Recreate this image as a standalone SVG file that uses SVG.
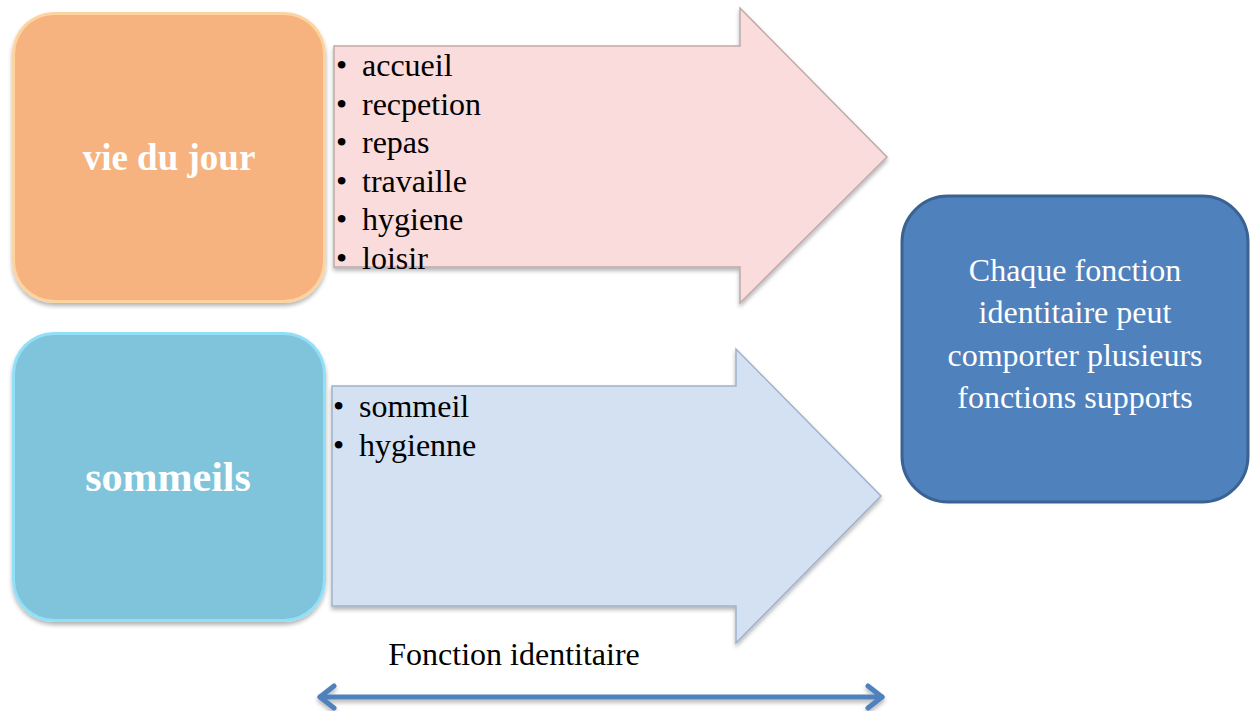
<svg xmlns="http://www.w3.org/2000/svg" width="1253" height="711" viewBox="0 0 1253 711">
<style>
.t{font-family:"Liberation Serif","Times New Roman",serif;}
.lst{font-size:32px;fill:#000;}
.big{font-weight:bold;fill:#fff;text-anchor:middle;}
.rb{font-size:32px;fill:#fff;text-anchor:middle;}
</style>
<defs>
<filter id="sh" x="-10%" y="-10%" width="120%" height="130%">
<feGaussianBlur in="SourceAlpha" stdDeviation="2"/>
<feOffset dx="0" dy="3" result="b"/>
<feComponentTransfer><feFuncA type="linear" slope="0.3"/></feComponentTransfer>
<feMerge><feMergeNode/><feMergeNode in="SourceGraphic"/></feMerge>
</filter>
</defs>
<g id="vie-du-jour">
<rect x="12" y="12" width="314" height="291" rx="42" fill="#fdd4a0" filter="url(#sh)"/>
<rect x="15" y="15" width="308" height="285" rx="39" fill="#f6b37f"/>
<text class="t big" x="169" y="170" font-size="37">vie du jour</text>
</g>
<g id="arrow-jour">
<polygon points="334,46 740,46 740,8 887,157 740,303 740,267 334,267" fill="#f9dcdb" stroke="#bfa9a9" stroke-width="1.5" filter="url(#sh)"/>
<text class="t lst" x="336" y="76">•<tspan x="362">accueil</tspan></text>
<text class="t lst" x="336" y="114.5">•<tspan x="362">recpetion</tspan></text>
<text class="t lst" x="336" y="153">•<tspan x="362">repas</tspan></text>
<text class="t lst" x="336" y="191.5">•<tspan x="362">travaille</tspan></text>
<text class="t lst" x="336" y="230">•<tspan x="362">hygiene</tspan></text>
<text class="t lst" x="336" y="268.5">•<tspan x="362">loisir</tspan></text>
</g>
<g id="sommeils">
<rect x="12" y="332" width="314" height="290" rx="42" fill="#92e0f8" filter="url(#sh)"/>
<rect x="15" y="335" width="308" height="284" rx="39" fill="#80c4dc"/>
<text class="t big" x="168" y="491" font-size="42">sommeils</text>
</g>
<g id="arrow-sommeil">
<polygon points="332,386 736,386 736,349 881,496 736,643 736,606 332,606" fill="#d3e1f3" stroke="#9fb2c9" stroke-width="1.5" filter="url(#sh)"/>
<text class="t lst" x="333" y="417">•<tspan x="359">sommeil</tspan></text>
<text class="t lst" x="333" y="456">•<tspan x="359">hygienne</tspan></text>
</g>
<g id="support">
<rect x="902" y="196" width="346" height="306" rx="46" fill="#4f81bd" stroke="#3a6394" stroke-width="3"/>
<text class="t rb" x="1075" y="281">Chaque fonction</text>
<text class="t rb" x="1075" y="323">identitaire peut</text>
<text class="t rb" x="1075" y="366">comporter plusieurs</text>
<text class="t rb" x="1075" y="408">fonctions supports</text>
</g>
<g id="label">
<text class="t" x="514" y="665" font-size="32" text-anchor="middle" fill="#000">Fonction identitaire</text>
</g>
<g id="connectors" fill="none" stroke="#4f81bd" stroke-width="5" stroke-linecap="round" stroke-linejoin="round" filter="url(#sh)">
<line x1="320" y1="697" x2="882" y2="697"/>
<polyline points="334,686 320,697 334,708"/>
<polyline points="868,686 882,697 868,708"/>
</g>
</svg>
